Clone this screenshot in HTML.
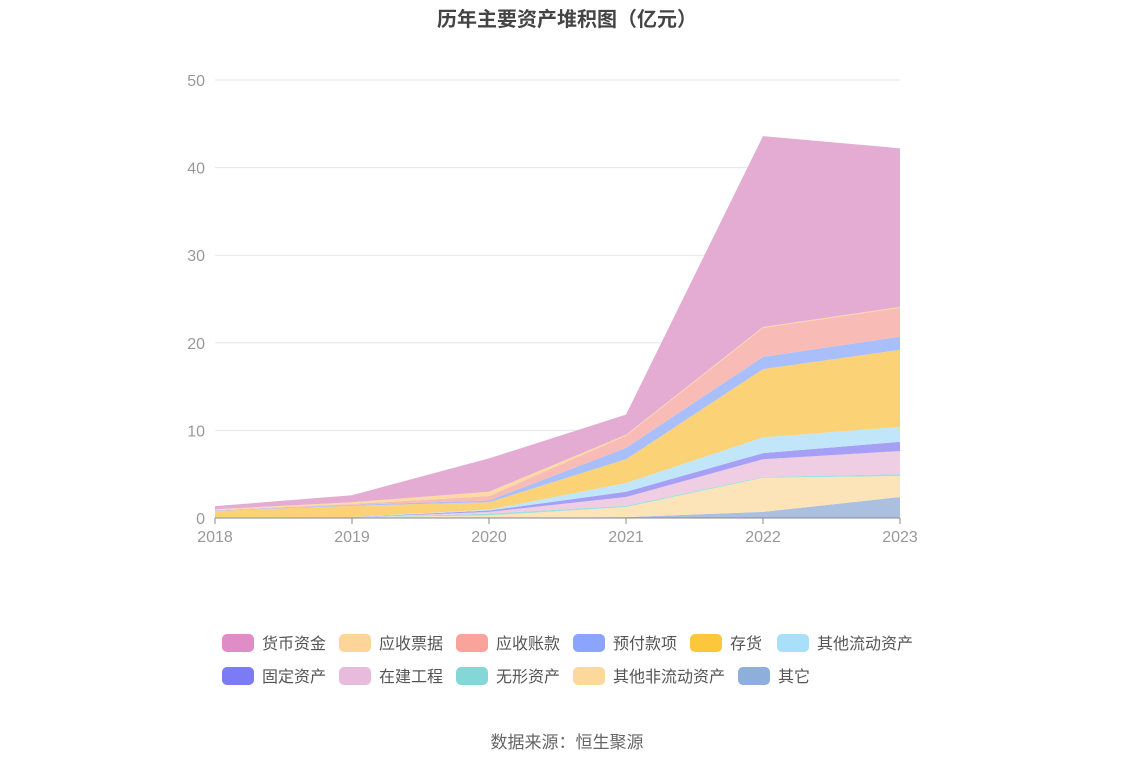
<!DOCTYPE html>
<html><head><meta charset="utf-8"><style>
body{margin:0;background:#fff;font-family:"Liberation Sans","Noto Sans CJK SC",sans-serif;}
svg text{font-family:"Liberation Sans","Noto Sans CJK SC",sans-serif;}
</style></head><body>
<svg id="c" width="1134" height="766">
<text x="567" y="26" text-anchor="middle" font-size="20" font-weight="bold" fill="#444">历年主要资产堆积图（亿元）</text>
<g id="grid"></g><g id="areas"></g><g id="axis"></g><g id="legend"></g>
<text x="567" y="748" text-anchor="middle" font-size="17" fill="#666">数据来源：恒生聚源</text>
</svg>
<script>
const years=["2018","2019","2020","2021","2022","2023"];
const yTicks=[0,10,20,30,40,50];
const names=["其它","其他非流动资产","无形资产","在建工程","固定资产","其他流动资产","存货","预付款项","应收账款","应收票据","货币资金"];
const sOther=[0.02,0.03,0.05,0.1,0.7,2.4];
const sNonCur=[0.02,0.03,0.25,1.15,3.9,2.4];
const sIntang=[0,0,0.2,0.15,0.1,0.2];
const sConstr=[0,0,0.2,1.0,2.0,2.65];
const sFixed=[0.02,0.03,0.15,0.6,0.7,1.05];
const sOtherCur=[0.02,0.03,0.1,1.0,1.8,1.7];
const sInv=[0.72,1.28,0.85,2.7,7.8,8.8];
const sPrepay=[0.05,0.1,0.2,1.3,1.4,1.5];
const sAR=[0.05,0.1,0.5,1.4,3.3,3.3];
const sNotes=[0.1,0.2,0.5,0.1,0.1,0.1];
const sCash=[0.35,0.8,3.8,2.3,21.8,18.1];
const series=[sOther,sNonCur,sIntang,sConstr,sFixed,sOtherCur,sInv,sPrepay,sAR,sNotes,sCash];
const fills=["#abc0e0","#fde3b8","#9ee0dc","#efcde3","#a5a0f5","#c1e5f9","#fcd277","#a9bffc","#f9bbb5","#fdd9a3","#e4abd3"];
const legCols=["#8eaedc","#fdd89b","#85d6d6","#e8badb","#7b7cf5","#a8e0fa","#fdc73c","#8aa5fb","#f9a39a","#fdd59a","#df8cc7"];
const slugs=["other","other-noncurrent-assets","intangible-assets","construction-in-progress","fixed-assets","other-current-assets","inventory","prepayments","accounts-receivable","notes-receivable","cash"];
const NS="http://www.w3.org/2000/svg";
const X=i=>215+i*137, Y=v=>518-v*8.76;
function mk(t,a,p){const e=document.createElementNS(NS,t);for(const k in a)e.setAttribute(k,a[k]);p.appendChild(e);return e;}
const grid=document.getElementById('grid'),axis=document.getElementById('axis'),areas=document.getElementById('areas'),leg=document.getElementById('legend');
yTicks.forEach(v=>{
 if(v>0){const l=mk('line',{x1:215,x2:900,y1:Y(v),y2:Y(v),stroke:'#e3e6f3'},grid);
 
 }
 const t=mk('text',{x:205,y:Y(v)+6,'text-anchor':'end','font-size':16,fill:'#999'},axis);t.textContent=v;
 
 
});
let cum=years.map(()=>0);
series.forEach((s,k)=>{
 const low=cum.slice();cum=cum.map((c,i)=>c+s[i]);
 let d='M'+years.map((_,i)=>X(i)+','+Y(cum[i])).join(' L')+' L'+years.map((_,i)=>X(years.length-1-i)+','+Y(low[years.length-1-i])).join(' L')+'Z';
 const p=mk('path',{d:d,fill:fills[k]},areas);
 
 
});
mk('line',{x1:215,x2:900,y1:518,y2:518,stroke:'#888'},axis);
years.forEach((y,i)=>{
 mk('line',{x1:X(i),x2:X(i),y1:518,y2:524,stroke:'#888'},axis);
 const t=mk('text',{x:X(i),y:542,'text-anchor':'middle','font-size':16,fill:'#999'},axis);t.textContent=y;
 
 
});
const order=[10,9,8,7,6,5,4,3,2,1,0];
const pos=[[222,643],[339,643],[456,643],[573,643],[690,643],[777,643],[222,676],[339,676],[456,676],[573,676],[738,676]];
order.forEach((k,j)=>{
 const g=mk('g',{},leg);
 
 
 mk('rect',{x:pos[j][0],y:pos[j][1]-9,width:32,height:18,rx:5,fill:legCols[k]},g);
 const t=mk('text',{x:pos[j][0]+40,y:pos[j][1]+6,'font-size':16,fill:'#555'},g);t.textContent=names[k];
});
</script>
</body></html>
